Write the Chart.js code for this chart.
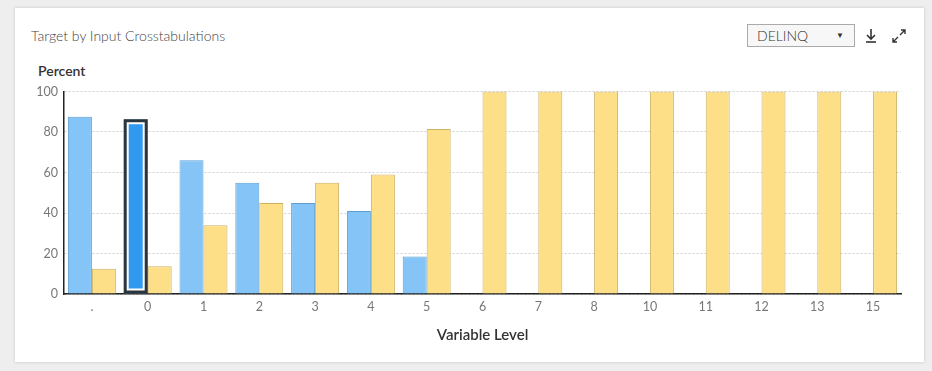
<!DOCTYPE html>
<html>
<head>
<meta charset="utf-8">
<script src="https://cdn.jsdelivr.net/npm/chart.js@4/dist/chart.umd.min.js"></script>
<style>
  html, body { margin: 0; padding: 0; background: #eeeeee; font-family: Lato, "Open Sans", sans-serif; }
  body { width: 932px; height: 371px; position: relative; overflow: hidden; }
  .card { position: absolute; left: 15px; top: 8px; width: 909px; height: 354px; background: #fff;
          box-shadow: 0 0 3px rgba(0,0,0,0.18); }
  .title { position: absolute; left: 31px; top: 27px; font-size: 14px; color: #444; font-weight: 300; }
  .ytitle { position: absolute; left: 38px; top: 62px; font-size: 14px; color: #333; font-weight: 600; }
  .select { position: absolute; left: 747px; top: 24px; width: 108px; height: 23px; border: 1px solid #aaa;
            background: #f7f7f7; box-sizing: border-box; font-size: 14px; color: #333; line-height: 21px;
            padding-left: 9px; font-weight: 300; }
  .select .arrow { position: absolute; right: 10px; top: 0; font-size: 8px; }
  .icon { position: absolute; top: 28px; }
  #chartWrap { position: absolute; left: 20px; top: 78px; width: 890px; height: 270px; }
</style>
</head>
<body>
<div class="card"></div>
<div class="title">Target by Input Crosstabulations</div>
<div class="ytitle">Percent</div>
<div class="select">DELINQ<span class="arrow">&#9660;</span></div>
<svg class="icon" style="left:864px" width="14" height="16" viewBox="0 0 14 16">
  <path d="M7 1 V11 M3 7 L7 11 L11 7" stroke="#333" stroke-width="1.6" fill="none"/>
  <path d="M2 14 H12" stroke="#333" stroke-width="1.6"/>
</svg>
<svg class="icon" style="left:891px" width="16" height="16" viewBox="0 0 16 16">
  <path d="M9 7 L14 2 M10 2 H14 V6" stroke="#333" stroke-width="1.4" fill="none"/>
  <path d="M7 9 L2 14 M2 10 V14 H6" stroke="#333" stroke-width="1.4" fill="none"/>
</svg>
<div id="chartWrap"><canvas id="chart"></canvas></div>
<script>
  const levels = [".", "0", "1", "2", "3", "4", "5", "6", "7", "8", "10", "11", "12", "13", "15"];
  const blueValues = [87.5, 86.3, 66, 55, 45, 41, 18.5, 0, 0, 0, 0, 0, 0, 0, 0];
  const yellowValues = [12.5, 13.7, 34, 45, 55, 59, 81.5, 100, 100, 100, 100, 100, 100, 100, 100];
  const yTicks = [0, 20, 40, 60, 80, 100];
  const selectedIndex = 1;

  const selectedBar = {
    id: "selectedBar",
    afterDatasetsDraw(chart) {
      const bar = chart.getDatasetMeta(0).data[selectedIndex];
      if (!bar) return;
      const ctx = chart.ctx;
      const left = bar.x - bar.width / 2;
      const top = bar.y;
      const h = bar.base - bar.y;
      ctx.save();
      ctx.fillStyle = "#2a363d";
      ctx.fillRect(left, top, bar.width, h);
      ctx.fillStyle = "#ffffff";
      ctx.fillRect(left + 3, top + 3, bar.width - 6, h - 6);
      ctx.fillStyle = "#3199ef";
      ctx.fillRect(left + 5, top + 5, bar.width - 10, h - 10);
      ctx.restore();
    },
  };

  new Chart(document.getElementById("chart"), {
    type: "bar",
    data: {
      labels: levels,
      datasets: [
        {
          label: "0",
          data: blueValues,
          backgroundColor: "#85c4f6",
          borderColor: "#5d9fd3",
          borderWidth: 1,
          categoryPercentage: 0.86,
          barPercentage: 1,
        },
        {
          label: "1",
          data: yellowValues,
          backgroundColor: "#fddf88",
          borderColor: "#cdb264",
          borderWidth: 1,
          categoryPercentage: 0.86,
          barPercentage: 1,
        },
      ],
    },
    options: {
      responsive: true,
      maintainAspectRatio: false,
      animation: false,
      layout: { padding: { top: 5, right: 9, bottom: 0, left: 0 } },
      plugins: { legend: { display: false }, tooltip: { enabled: false } },
      scales: {
        x: {
          grid: { display: false, drawTicks: false },
          border: { color: "#222", width: 1.5 },
          ticks: { color: "#777", font: { family: "Lato", size: 12.5 }, padding: 5 },
          title: {
            display: true,
            text: "Variable Level",
            color: "#333",
            font: { family: "Lato", size: 15, weight: "600" },
            padding: { top: 7 },
          },
        },
        y: {
          min: 0,
          max: 100,
          afterFit: (scale) => { scale.width = 44; },
          afterBuildTicks: (scale) => { scale.ticks = yTicks.map((v) => ({ value: v })); },
          grid: { color: "#cfcfcf", drawTicks: false },
          border: { color: "#222", width: 1.5, dash: [2, 2] },
          ticks: { color: "#777", font: { family: "Lato", size: 12.5 }, padding: 6 },
        },
      },
    },
    plugins: [selectedBar],
  });
</script>
</body>
</html>
